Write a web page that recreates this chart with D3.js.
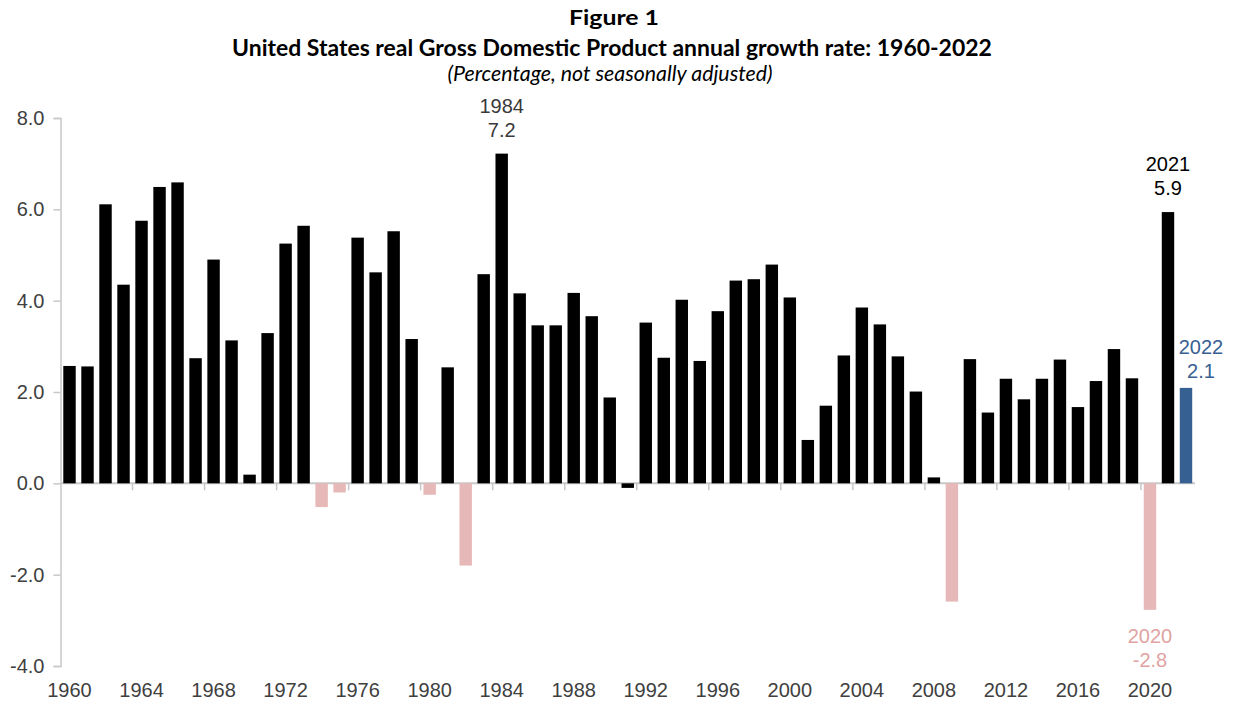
<!DOCTYPE html>
<html>
<head>
<meta charset="utf-8">
<script src="https://cdn.jsdelivr.net/npm/d3@7"></script>
<style>
  html, body { margin: 0; padding: 0; background: #ffffff; }
  svg { display: block; }
</style>
</head>
<body>
<svg id="chart" width="1234" height="704"></svg>
<script>
// ---------- DATA ----------
const years = [1960,1961,1962,1963,1964,1965,1966,1967,1968,1969,
               1970,1971,1972,1973,1974,1975,1976,1977,1978,1979,
               1980,1981,1982,1983,1984,1985,1986,1987,1988,1989,
               1990,1991,1992,1993,1994,1995,1996,1997,1998,1999,
               2000,2001,2002,2003,2004,2005,2006,2007,2008,2009,
               2010,2011,2012,2013,2014,2015,2016,2017,2018,2019,
               2020,2021,2022];
const growth = [2.57,2.56,6.11,4.35,5.75,6.49,6.59,2.74,4.90,3.13,
                0.19,3.29,5.25,5.64,-0.52,-0.20,5.38,4.62,5.52,3.16,
                -0.25,2.54,-1.80,4.58,7.22,4.16,3.46,3.46,4.17,3.66,
                1.88,-0.10,3.52,2.75,4.02,2.68,3.77,4.44,4.47,4.79,
                4.07,0.95,1.70,2.80,3.85,3.48,2.78,2.01,0.13,-2.59,
                2.72,1.55,2.29,1.84,2.29,2.71,1.67,2.24,2.94,2.30,
                -2.77,5.94,2.09];
const yTicks = [-4, -2, 0, 2, 4, 6, 8];
const xTickLabels = [1960,1964,1968,1972,1976,1980,1984,1988,1992,1996,2000,2004,2008,2012,2016,2020];
const annotYears = [1984, 2021, 2022, 2020];
const annotTexts = ["7.2", "5.9", "2.1", "-2.8"];

const titleLines = ["Figure 1", "United States real Gross Domestic Product annual growth rate: 1960-2022"];
const subtitle = "(Percentage, not seasonally adjusted)";

// ---------- STYLE ----------
const plotL = 60.5, plotR = 1195, plotT = 118, plotB = 666;
const colPos = "#000000", colNeg = "#e6b8b7", colLast = "#376092";
const axisCol = "#c8c8c8", labelCol = "#404040";
const bodyFont = "'Liberation Sans', Arial, sans-serif";
const titleFont = "Lato, 'Open Sans', sans-serif";

const svg = d3.select("#chart");

const x = d3.scaleBand().domain(years).range([plotL, plotR]).paddingInner(0.31).paddingOuter(0.155);
const y = d3.scaleLinear().domain([-4, 8]).range([plotB, plotT]);

// ---------- TITLES ----------
function fitText(sel, target) {
  const fs = parseFloat(sel.attr("font-size"));
  const w = sel.node().getComputedTextLength();
  if (w > 0) sel.attr("font-size", (fs * target / w).toFixed(2));
}
svg.append("text").attr("x", 614).attr("y", 25).attr("text-anchor", "middle")
  .attr("font-family", titleFont).attr("font-weight", "bold").attr("font-size", 20)
  .attr("textLength", 90).attr("lengthAdjust", "spacingAndGlyphs")
  .attr("fill", "#000").text(titleLines[0]);
const t2 = svg.append("text").attr("x", 612).attr("y", 56).attr("text-anchor", "middle")
  .attr("font-family", titleFont).attr("font-weight", "bold").attr("font-size", 17)
  .attr("fill", "#000").text(titleLines[1]);
fitText(t2, 760);
const t3 = svg.append("text").attr("x", 610).attr("y", 81).attr("text-anchor", "middle")
  .attr("font-family", titleFont).attr("font-style", "italic").attr("font-size", 15)
  .attr("fill", "#000").text(subtitle);
fitText(t3, 325);

// ---------- AXES ----------
const yAxis = d3.axisLeft(y).tickValues(yTicks).tickFormat(d => d.toFixed(1)).tickSize(7).tickPadding(9);
const gy = svg.append("g").attr("transform", `translate(${plotL},0)`).call(yAxis);
gy.select(".domain").attr("stroke", axisCol).attr("stroke-width", 1.5);
gy.selectAll(".tick line").attr("stroke", axisCol).attr("stroke-width", 1.5);
gy.selectAll(".tick text").attr("font-family", bodyFont).attr("font-size", 20).attr("fill", labelCol);

// x axis line at zero
const zeroY = y(0);
svg.append("line").attr("x1", plotL).attr("x2", plotR).attr("y1", zeroY).attr("y2", zeroY)
  .attr("stroke", axisCol).attr("stroke-width", 2);

// x tick marks between groups of 4 years
const step = x.step();
const tickYears = xTickLabels.slice(1);
svg.append("g").selectAll("line").data(tickYears).join("line")
  .attr("x1", d => x(d) - (step - x.bandwidth()) / 2)
  .attr("x2", d => x(d) - (step - x.bandwidth()) / 2)
  .attr("y1", zeroY).attr("y2", zeroY + 7)
  .attr("stroke", axisCol).attr("stroke-width", 1.5);

// x tick labels at bottom
svg.append("g").selectAll("text").data(xTickLabels).join("text")
  .attr("x", d => x(d) + x.bandwidth() / 2)
  .attr("y", 697)
  .attr("text-anchor", "middle")
  .attr("font-family", bodyFont).attr("font-size", 20).attr("fill", labelCol)
  .text(d => d);

// ---------- BARS ----------
const data = years.map((yr, i) => ({ year: yr, value: growth[i] }));
function barColor(d) {
  if (d.year === years[years.length - 1]) return colLast;
  return d.value < -0.15 ? colNeg : colPos;
}
svg.append("g").selectAll("rect").data(data).join("rect")
  .attr("x", d => x(d.year))
  .attr("width", x.bandwidth())
  .attr("y", d => y(Math.max(0, d.value)))
  .attr("height", d => Math.abs(y(d.value) - y(0)))
  .attr("fill", barColor);

// ---------- ANNOTATIONS ----------
const annColors = {1984: "#3a3a3a", 2021: "#000000", 2022: colLast, 2020: "#e0a3a2"};
annotYears.forEach((yr, i) => {
  const v = growth[years.indexOf(yr)];
  let cx = x(yr) + x.bandwidth() / 2;
  let base1, base2;
  if (yr === 2022) {
    cx += 15;
    base1 = y(v) - 34; base2 = y(v) - 10;
  } else if (v >= 0) {
    base1 = y(v) - 41; base2 = y(v) - 17;
  } else {
    base1 = y(v) + 33; base2 = y(v) + 57;
  }
  const g = svg.append("g").attr("font-family", bodyFont).attr("font-size", 20)
    .attr("fill", annColors[yr]).attr("text-anchor", "middle");
  g.append("text").attr("x", cx).attr("y", base1).text(yr);
  g.append("text").attr("x", cx).attr("y", base2).text(annotTexts[i]);
});
</script>
</body>
</html>
